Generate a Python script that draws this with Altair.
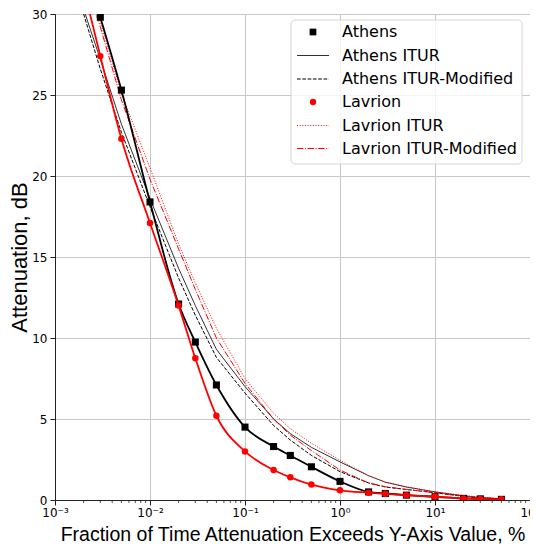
import altair as alt
import pandas as pd

# ---------------- data ----------------
pct = [0.003, 0.005, 0.01, 0.02, 0.03, 0.05, 0.1, 0.2, 0.3, 0.5, 1, 2, 3, 5, 10, 20, 30, 50]
athens = [29.8, 25.3, 18.4, 12.1, 9.75, 7.1, 4.5, 3.3, 2.75, 2.05, 1.15, 0.5, 0.4, 0.3, 0.2, 0.1, 0.07, 0.04]
lavrion = [27.4, 22.3, 17.1, 12.0, 8.75, 5.2, 3.0, 1.85, 1.4, 0.95, 0.6, 0.45, 0.38, 0.3, 0.2, 0.1, 0.07, 0.04]

# fitted curves through the measurements continue above the top of the plot
fit_pct = [0.002] + pct
athens_fit = [33.3] + athens
lavrion_fit = [31.6] + lavrion

itur_pct = [0.002, 0.003, 0.005, 0.01, 0.02, 0.03, 0.05, 0.1, 0.2, 0.3, 0.5, 1, 2, 3, 5, 10, 20, 30, 50]
athens_itur = [30.3, 27.2, 23.2, 18.6, 14.3, 12.0, 9.3, 7.0, 5.0, 4.1, 3.25, 2.35, 1.5, 1.1, 0.8, 0.5, 0.25, 0.15, 0.07]
athens_itur_mod = [30.0, 26.6, 22.7, 18.1, 13.7, 11.4, 8.8, 6.6, 4.6, 3.7, 2.75, 1.75, 1.05, 0.8, 0.65, 0.45, 0.22, 0.13, 0.05]
lavrion_itur = [32.9, 29.5, 25.1, 20.5, 15.8, 13.4, 10.6, 7.5, 5.35, 4.4, 3.5, 2.45, 1.5, 1.1, 0.82, 0.5, 0.28, 0.18, 0.08]
lavrion_itur_mod = [32.4, 29.2, 24.7, 19.8, 15.5, 13.0, 10.0, 7.2, 5.0, 4.0, 3.05, 1.85, 1.05, 0.82, 0.65, 0.45, 0.25, 0.15, 0.07]

x_major = [0.001, 0.01, 0.1, 1, 10, 100]
x_minor = [k * 10 ** e for e in range(-3, 2) for k in range(2, 10)]
y_ticks = [0, 5, 10, 15, 20, 25, 30]

legend_labels = ["Athens", "Athens ITUR", "Athens ITUR-Modified",
                 "Lavrion", "Lavrion ITUR", "Lavrion ITUR-Modified"]

W, H = 475, 486

# ---------------- encodings ----------------
e = "round(log(datum.value)/LN10)"
label_expr = (f"{e} == -3 ? '10⁻³' : {e} == -2 ? '10⁻²' : {e} == -1 ? '10⁻¹' : "
              f"{e} == 0 ? '10⁰' : {e} == 1 ? '10¹' : '10²'")

xscale = alt.Scale(type="log", domain=[0.001, 100], nice=False)
yscale = alt.Scale(domain=[0, 30], nice=False, zero=False)
xaxis = alt.Axis(values=x_major, labelExpr=label_expr, labelFlush=False,
                 title="Fraction of Time Attenuation Exceeds Y-Axis Value, %",
                 grid=True, tickSize=5, labelPadding=2, titlePadding=7, titleFontSize=19.5)
yaxis = alt.Axis(values=y_ticks, title="Attenuation, dB", grid=True, labelFlush=False,
                 tickSize=5, labelPadding=3, titlePadding=0, titleFontSize=22)


def X(field):
    return alt.X(f"{field}:Q", scale=xscale, axis=xaxis)


def Y(field):
    return alt.Y(f"{field}:Q", scale=yscale, axis=yaxis)


def curve(p, v, color, width, dash=None, opacity=1.0, interp="linear"):
    df = pd.DataFrame({"p": p, "v": v})
    kw = dict(color=color, strokeWidth=width, clip=True, opacity=opacity, interpolate=interp)
    if dash:
        kw["strokeDash"] = dash
    return alt.Chart(df).mark_line(**kw).encode(x=X("p"), y=Y("v"))


def points(p, v, shape, color, size):
    df = pd.DataFrame({"p": p, "v": v})
    return alt.Chart(df).mark_point(shape=shape, filled=True, color=color, size=size,
                                    opacity=1, clip=True).encode(x=X("p"), y=Y("v"))


layers = []
# minor ticks on the x axis
minor_df = pd.DataFrame({"m": x_minor})
layers.append(alt.Chart(minor_df).mark_rule(color="#222", strokeWidth=0.8).encode(
    x=X("m"), y=alt.value(H), y2=alt.value(H + 3)))

layers.append(curve(itur_pct, athens_itur, "#000000", 1, opacity=0.8))
layers.append(curve(itur_pct, athens_itur_mod, "#000000", 1, dash=[3.7, 1.6]))
layers.append(curve(itur_pct, lavrion_itur, "#ff0000", 1, dash=[1, 1.65]))
layers.append(curve(itur_pct, lavrion_itur_mod, "#ff0000", 1, dash=[6.4, 1.6, 1, 1.6]))
layers.append(curve(fit_pct, athens_fit, "#000000", 1.8, interp="monotone"))
layers.append(points(pct, athens, "square", "#000000", 50))
layers.append(curve(fit_pct, lavrion_fit, "#ff0000", 1.8, interp="monotone"))
layers.append(points(pct, lavrion, "circle", "#ff0000", 42))

# ---------------- legend ----------------
one = pd.DataFrame({"a": [0]})
LX0, LX1, LY0, LY1 = 236, 467, 6, 150
layers.append(alt.Chart(one).mark_rect(fill="white", fillOpacity=0.8, stroke="#d4d4d4",
                                       strokeWidth=1, cornerRadius=4).encode(
    x=alt.value(LX0), x2=alt.value(LX1), y=alt.value(LY0), y2=alt.value(LY1)))

rows = [18, 41.5, 65, 88, 111.5, 134.5]
sx, lx0, lx1, tx = 258, 242, 274, 287
symbols = [
    ("square", "#000000", None, None),
    ("line", "#000000", None, 0.8),
    ("line", "#000000", [3.7, 1.6], 1.0),
    ("circle", "#ff0000", None, None),
    ("line", "#ff0000", [1, 1.65], 1.0),
    ("line", "#ff0000", [6.4, 1.6, 1, 1.6], 1.0),
]
for (kind, col, dash, op), yy, lab in zip(symbols, rows, legend_labels):
    if kind == "line":
        kw = dict(color=col, strokeWidth=1, opacity=op)
        if dash:
            kw["strokeDash"] = dash
        layers.append(alt.Chart(one).mark_rule(**kw).encode(
            x=alt.value(lx0), x2=alt.value(lx1), y=alt.value(yy)))
    else:
        layers.append(alt.Chart(one).mark_point(shape=kind, filled=True, color=col, opacity=1,
                                                size=45 if kind == "square" else 40).encode(
            x=alt.value(sx), y=alt.value(yy)))
    layers.append(alt.Chart(pd.DataFrame({"t": [lab]})).mark_text(
        align="left", baseline="middle", font="DejaVu Sans", fontSize=16, color="#000").encode(
        x=alt.value(tx), y=alt.value(yy), text="t:N"))

chart = alt.layer(*layers).properties(
    width=W, height=H,
    padding={"left": 47, "top": 6, "right": 0, "bottom": 44},
    autosize=alt.AutoSizeParams(type="none"),
).configure_view(stroke="#222", strokeWidth=1).configure_axis(
    domainColor="#222", tickColor="#222", gridColor="#c8c8c8", gridWidth=1,
    labelFont="DejaVu Sans", labelFontSize=12, labelColor="#000",
    titleFont="Liberation Sans", titleFontWeight="normal", titleColor="#000",
)

chart.save("out.html", embed_options={"renderer": "svg", "actions": False})
